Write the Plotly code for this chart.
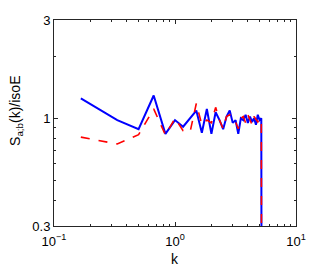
import plotly.graph_objects as go

k = [n / 6 for n in range(1, 33)]
blue = [1.25, 0.98, 0.885, 1.29, 0.84, 0.98, 0.91, 1.0, 1.09, 0.85,
        1.11, 0.84, 1.07, 0.98, 0.885, 1.02, 1.09, 0.95, 0.98, 0.84,
        1.0, 0.98, 1.04, 0.95, 1.02, 0.96, 1.0, 0.93, 1.04, 0.98,
        1.0, 1e-6]
red = [0.81, 0.75, 0.833, 1.11, 0.83, 1.0, 0.87, 0.86, 1.18, 0.93,
       0.98, 0.95, 1.13, 0.98, 0.89, 1.02, 1.04, 1.0, 0.96, 0.89,
       1.0, 1.02, 0.95, 1.04, 0.98, 0.93, 1.02, 0.98, 0.96, 1.0,
       0.98, 1e-6]

xticks = [0.1, 1, 10]
xticktext = ["10<sup>−1</sup>", "10<sup>0</sup>", "10<sup>1</sup>"]
yticks = [0.3, 1, 3]
yticktext = ["0.3", "1", "3"]
xminor = [0.2, 0.3, 0.4, 0.5, 0.6, 0.7, 0.8, 0.9, 2, 3, 4, 5, 6, 7, 8, 9]
yminor = [0.4, 0.5, 0.6, 0.7, 0.8, 0.9, 2]

fig = go.Figure()
fig.add_trace(go.Scatter(x=k, y=blue, mode="lines",
                         line=dict(color="rgb(0,0,255)", width=2)))
fig.add_trace(go.Scatter(x=k, y=red, mode="lines",
                         line=dict(color="rgb(255,0,0)", width=1.6, dash="dash")))

font = dict(family="Liberation Sans, Arial, sans-serif", size=13, color="black")
axis_common = dict(showgrid=False, zeroline=False, showline=True, linecolor="#262626",
                   linewidth=1, mirror="ticks", ticks="inside", ticklen=4,
                   tickcolor="#262626", tickfont=font, automargin=False)

fig.update_xaxes(type="log", range=[-1, 1], tickvals=xticks, ticktext=xticktext,
                 ticklabelstandoff=3,
                 minor=dict(tickvals=xminor, ticks="inside", ticklen=2, tickcolor="#262626"),
                 **axis_common)
fig.update_yaxes(type="log", range=[-0.5228787, 0.4771213], tickvals=yticks,
                 ticktext=yticktext,
                 minor=dict(tickvals=yminor, ticks="inside", ticklen=2, tickcolor="#262626"),
                 **axis_common)

fig.add_annotation(text="k", xref="paper", yref="paper", x=0.5, y=-0.11,
                   showarrow=False, font=dict(family=font["family"], size=14, color="black"),
                   xanchor="center", yanchor="top")
fig.add_annotation(text="S<sub>a;b</sub>(k)/isoE", xref="paper", yref="paper",
                   x=-0.16, y=0.56, textangle=-90, showarrow=False,
                   font=dict(family=font["family"], size=14, color="black"),
                   xanchor="center", yanchor="middle")

fig.update_layout(width=319, height=260, showlegend=False,
                  margin=dict(l=46, r=31, t=12, b=42),
                  paper_bgcolor="white", plot_bgcolor="white")

fig.write_html("out.html")
